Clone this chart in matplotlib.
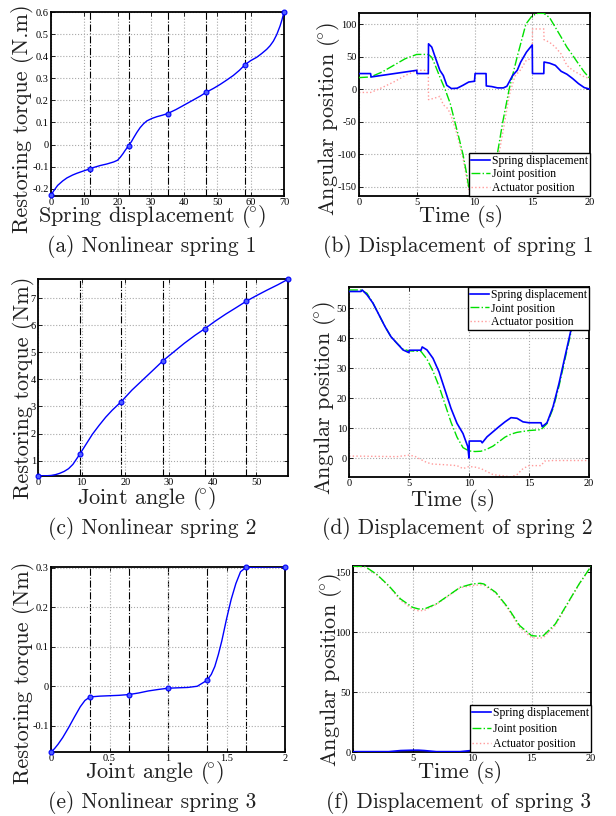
import numpy as np
import matplotlib
matplotlib.use("Agg")
import matplotlib.pyplot as plt

plt.rcParams['mathtext.fontset'] = 'cm'
plt.rcParams['font.family'] = ['cmr10', 'DejaVu Serif']
plt.rcParams['axes.unicode_minus'] = False

# ---- (a) nonlinear spring 1 ----
a_knot_x = [0, 11.667, 23.333, 35, 46.667, 58.333, 70]
a_knot_y = [-0.23, -0.11, -0.005, 0.14, 0.237, 0.362, 0.6]
a_curve_x = [0, 0.8, 2, 3.5, 4.8, 6.5, 7.8, 9.5, 11.667, 13, 14.8, 16.8, 18.8, 20, 20.8, 21.6, 22.3, 23.333,
             24.2, 24.8, 25.8, 26.8, 27.8, 28.8, 30.3, 31.8, 33.5, 35, 37.5, 39.8, 42.3, 44.8, 46.667,
             48.8, 50.8, 52.8, 54.8, 56.6, 58.333, 60, 61.8, 63.3, 64.8, 65.8, 66.8, 67.8, 68.8, 69.4, 70]
a_curve_y = [-0.23, -0.21, -0.185, -0.165, -0.151, -0.138, -0.13, -0.121, -0.11, -0.103, -0.095, -0.088, -0.079,
             -0.071, -0.058, -0.042, -0.026, -0.005, 0.014, 0.03, 0.055, 0.077, 0.094, 0.107, 0.118, 0.126,
             0.133, 0.14, 0.158, 0.177, 0.198, 0.219, 0.237, 0.254, 0.272, 0.292, 0.313, 0.336, 0.362,
             0.38, 0.395, 0.412, 0.431, 0.447, 0.468, 0.497, 0.536, 0.565, 0.6]

# ---- (c) nonlinear spring 2 ----
c_knot_x = [0, 9.55, 19.1, 28.65, 38.2, 47.75, 57.3]
c_knot_y = [0.435, 1.23, 3.18, 4.69, 5.87, 6.89, 7.70]
c_curve_x = [0, 2, 3, 4, 5, 6, 7, 8, 9.55, 11, 12.5, 14, 15.5, 17, 19.1, 21.5, 24, 26.5, 28.65,
             31, 33.5, 36, 38.2, 40.5, 43, 45.5, 47.75, 50, 52.5, 55, 57.3]
c_curve_y = [0.435, 0.44, 0.45, 0.48, 0.53, 0.6, 0.7, 0.86, 1.23, 1.6, 1.98, 2.3, 2.6, 2.86, 3.18,
             3.6, 3.98, 4.36, 4.69, 5.0, 5.33, 5.63, 5.87, 6.14, 6.41, 6.66, 6.89, 7.09, 7.3, 7.5, 7.70]

# ---- (e) nonlinear spring 3 ----
e_knot_x = [0, 0.3333, 0.6667, 1.0, 1.3333, 1.6667, 2.0]
e_knot_y = [-0.1665, -0.027, -0.021, -0.005, 0.015, 0.301, 0.302]
e_curve_x = [0, 0.03, 0.06, 0.1, 0.15, 0.2, 0.25, 0.29, 0.3333, 0.42, 0.5, 0.58, 0.6667, 0.75, 0.83, 0.92,
             1.0, 1.08, 1.17, 1.25, 1.3333, 1.37, 1.4, 1.43, 1.46, 1.5, 1.54, 1.58, 1.62, 1.6667, 1.75, 1.85, 2.0]
e_curve_y = [-0.1665, -0.158, -0.147, -0.13, -0.105, -0.078, -0.052, -0.036, -0.027, -0.025, -0.024, -0.023,
             -0.021, -0.017, -0.012, -0.008, -0.005, -0.004, -0.003, 0.0, 0.015, 0.03, 0.05, 0.08, 0.115,
             0.17, 0.22, 0.26, 0.29, 0.301, 0.3015, 0.302, 0.302]

# ---- (b) displacement of spring 1 ----
b_spring_t = [0, 1, 1.05, 5, 5.02, 6, 6.02, 6.3, 6.6, 7, 7.3, 7.6, 8, 8.5, 9, 9.5, 10, 10.05, 11, 11.02,
              11.5, 12, 12.5, 12.8, 13, 13.3, 13.7, 14, 14.5, 15, 15.02, 16, 16.02, 16.5, 17, 17.5, 18,
              18.5, 19, 19.5, 20]
b_spring = [24, 24, 18.8, 29, 24, 24, 69.7, 64.6, 49, 29, 21, 6, 1, 1.5, 6, 11, 12.2, 24, 24, 5,
            4, 2, 2, 4.5, 11, 21, 29, 41.7, 57, 68, 24, 24, 41.7, 40, 36.6, 27.5, 23,
            16.3, 8.6, 2.5, 0]
b_joint_t = [0, 1, 2, 3, 4, 5, 6, 6.3, 6.6, 7, 7.45, 7.9, 8.3, 8.7, 9.0, 9.3, 9.5, 9.8, 10.3, 10.8, 11.3,
             11.7, 12.0, 12.45, 13.0, 13.7, 14.45, 15.0, 15.5, 16, 16.5, 17, 17.5, 18, 18.5, 19, 19.5, 20]
b_joint = [17.8, 18.8, 26.4, 36.6, 46.8, 53.4, 53.4, 49, 36.6, 18.8, 0, -22, -50, -78, -100, -128, -150, -162,
           -166, -160, -138, -115, -97, -50, 0, 50, 100, 113, 116.5, 116.5, 110, 95, 80, 64.6, 52, 39, 26.4, 16.3]
b_act_t = [0, 1, 1.5, 2, 3, 4, 5, 6, 6.02, 6.5, 7, 7.3, 7.7, 8, 8.5, 9, 9.5, 9.9, 10.5, 11.3, 11.7, 12.0,
           12.5, 13, 13.5, 14, 14.5, 15, 15.02, 16, 16.02, 16.5, 17, 17.5, 18, 18.5, 19, 19.5, 20]
b_act = [-5, -5, -1.5, 2.5, 11, 21, 29, 29, -16, -14, -11, -24, -30, -42, -70, -105, -155, -175,
         -175, -170, -140, -110, -62, -10, 20, 30, 45, 47, 92.5, 92.5, 76, 72, 64.6, 54, 36.6, 29, 24, 19, 16.3]

# ---- (d) displacement of spring 2 ----
d_spring_t = [0, 1, 1.1, 1.5, 2, 2.5, 3, 3.5, 4, 4.5, 5, 5.02, 6, 6.1, 6.5, 7, 7.5, 8, 8.5, 9, 9.5, 9.9,
              10, 10.02, 11, 11.1, 11.5, 12, 12.5, 13, 13.5, 14, 14.5, 15, 16, 16.1, 16.5, 17, 17.5, 18,
              18.5, 19, 19.5, 20]
d_spring = [55.6, 55.6, 56.1, 54.5, 51.7, 47.8, 43.9, 40.5, 38.3, 36.1, 35.2, 36, 36, 37.1, 36.1, 33.3,
            28.8, 22.7, 16.6, 11.6, 8.2, 3.8, 0, 5.7, 5.7, 5.1, 7.1, 8.8, 10.5, 12.1, 13.5, 13.3, 12.1,
            11.8, 11.8, 10.5, 11.8, 17.1, 24.9, 33.9, 42.8, 49.4, 54.5, 57.2]
d_joint_t = [0, 1, 1.5, 2, 2.5, 3, 3.5, 4, 4.5, 5, 6, 6.5, 7, 7.5, 8, 8.5, 9, 9.5, 10, 10.5, 11, 11.5, 12,
             12.5, 13, 13.5, 14, 15, 16, 16.5, 17, 17.5, 18, 18.5, 19, 19.5, 20]
d_joint = [56.1, 56.1, 55, 51.7, 47.8, 43.9, 40.5, 38.3, 36.4, 35.8, 35.6, 33, 29, 24, 18, 12, 7, 3.5,
           2.4, 2.2, 2.3, 3, 4, 5.5, 7, 8, 8.6, 9.2, 9.5, 11.5, 16.5, 24, 33, 42, 49, 54, 57]
d_act_t = [0, 4, 5, 5.5, 6, 6.5, 7, 8, 9, 9.5, 10, 10.5, 11, 11.5, 12, 13, 13.5, 14, 14.5, 15, 16, 16.3,
           17, 20]
d_act = [0.7, 0.5, 1, 0.6, -0.5, -1.5, -2, -2.2, -2.5, -3.5, -2.8, -3, -3.5, -4.5, -5.5, -6, -6.3, -5.5,
         -3.5, -2.5, -2.5, -1, -0.8, -0.8]

# ---- (f) displacement of spring 3 ----
f_t = [0, 1, 2, 3, 4, 5, 5.5, 6, 7, 8, 9, 10, 10.7, 11, 12, 13, 14, 15, 15.5, 16, 17, 18, 19, 20]
f_joint = [154.7, 154.7, 148, 138.6, 127.5, 120.6, 119.2, 119.2, 123.4, 130.3, 137.2, 140, 140.6, 140,
           133, 120.6, 105.4, 97, 96.5, 97, 106.7, 123.4, 140, 154.7]
f_spring = [0.3, 0.3, 0.3, 0.3, 1.2, 1.5, 1.5, 1.2, 0.3, 0.3, 0.3, 1.3, 1.3, 1.0, 0.5, 1.0, 1.6, 1.7, 1.7,
            1.7, 1.3, 0.6, 0.3, 0.3]
f_act = [154.4, 154.4, 147.7, 138.3, 126.3, 119.1, 117.7, 118.0, 123.1, 130.0, 136.9, 138.7, 139.3, 139,
         132.5, 119.6, 103.8, 95.3, 94.8, 95.3, 105.4, 122.8, 139.7, 154.4]

captions = ['(a) Nonlinear spring 1', '(b) Displacement of spring 1',
            '(c) Nonlinear spring 2', '(d) Displacement of spring 2',
            '(e) Nonlinear spring 3', '(f) Displacement of spring 3']
legend_labels = ['Spring displacement', 'Joint position', 'Actuator position']
DEG = r'($\!^{\circ}$)'

W, H = 616, 816
fig = plt.figure(figsize=(W / 100, H / 100), dpi=100)


def ax_px(l, t, r, b):
    return fig.add_axes([l / W, 1 - b / H, (r - l) / W, (b - t) / H])


tick_font = dict(family='Liberation Serif', size=7.5)
BLUE = '#0000ff'
GREEN = '#00e000'
PINK = '#ff9a9a'
LABEL_SIZE = 16
CAP_SIZE = 15.5


def style(ax, xt, xtl, yt, ytl, xlim, ylim):
    ax.set_xlim(*xlim)
    ax.set_ylim(*ylim)
    ax.set_xticks(xt)
    ax.set_xticklabels(xtl, fontdict=tick_font)
    ax.set_yticks(yt)
    ax.set_yticklabels(ytl, fontdict=tick_font)
    ax.grid(True, color='#a8a8a8', linestyle=':', linewidth=0.8)
    ax.tick_params(direction='in', length=3, width=0.6, top=True, right=True, pad=1.5)
    for s in ax.spines.values():
        s.set_linewidth(1.3)


def label_px(x, y, s, rot=0, size=LABEL_SIZE):
    fig.text(x / W, 1 - y / H, s, ha='center', va='center', rotation=rot, fontsize=size, color='#202020')


def spring_panel(ax, kx, ky, cx, cy):
    for v in kx[1:-1]:
        ax.axvline(v, color='black', linestyle='-.', linewidth=0.8, zorder=1)
    ax.plot(cx, cy, color=BLUE, linewidth=1.0, zorder=3)
    ax.plot(kx, ky, 'o', color=BLUE, markersize=3.5, markerfacecolor='#5060ff', markeredgewidth=0.8,
            zorder=4, clip_on=False)


def disp_panel(ax, st, sv, jt, jv, at, av, leg_loc, anchor, spacing=0.15):
    l1, = ax.plot(st, sv, color=BLUE, linewidth=1.2, zorder=4)
    l2, = ax.plot(jt, jv, color=GREEN, linestyle='-.', linewidth=1.0, zorder=3)
    l3, = ax.plot(at, av, color=PINK, linestyle=':', linewidth=1.0, zorder=2)
    leg = ax.legend([l1, l2, l3], legend_labels, loc=leg_loc, bbox_to_anchor=anchor,
                    prop=dict(family='Liberation Serif', size=8.5), handlelength=1.6, handletextpad=0.2,
                    borderpad=0.15, labelspacing=spacing, borderaxespad=0, fancybox=False, framealpha=1)
    leg.get_frame().set_edgecolor('black')
    leg.get_frame().set_linewidth(1.0)


# (a)
ax = ax_px(51, 12, 284, 196)
spring_panel(ax, a_knot_x, a_knot_y, a_curve_x, a_curve_y)
style(ax, [0, 10, 20, 30, 40, 50, 60, 70], ['0', '10', '20', '30', '40', '50', '60', '70'],
      [-0.2, -0.1, 0, 0.1, 0.2, 0.3, 0.4, 0.5, 0.6],
      ['-0.2', '-0.1', '0', '0.1', '0.2', '0.3', '0.4', '0.5', '0.6'], (0, 70), (-0.233, 0.6))
label_px(23, 119, 'Restoring torque (N.m)', rot=90)
label_px(152, 216, 'Spring displacement ' + DEG)
label_px(152, 247, captions[0], size=CAP_SIZE)

# (b)
ax = ax_px(359, 13, 590, 196)
disp_panel(ax, b_spring_t, b_spring, b_joint_t, b_joint, b_act_t, b_act, 'lower right', (1, 0))
style(ax, [0, 5, 10, 15, 20], ['0', '5', '10', '15', '20'],
      [-150, -100, -50, 0, 50, 100], ['-150', '-100', '-50', '0', '50', '100'], (0, 20), (-164, 117))
label_px(328, 119, 'Angular position ' + DEG, rot=90)
label_px(461, 217, 'Time (s)')
label_px(458, 247, captions[1], size=CAP_SIZE)

# (c)
ax = ax_px(38, 279, 288, 476)
spring_panel(ax, c_knot_x, c_knot_y, c_curve_x, c_curve_y)
style(ax, [0, 10, 20, 30, 40, 50], ['0', '10', '20', '30', '40', '50'],
      [1, 2, 3, 4, 5, 6, 7], ['1', '2', '3', '4', '5', '6', '7'], (0, 57.3), (0.43, 7.71))
label_px(24, 388, 'Restoring torque (Nm)', rot=90)
label_px(147, 499, 'Joint angle ' + DEG)
label_px(152, 528, captions[2], size=CAP_SIZE)

# (d)
ax = ax_px(349, 287, 589, 477)
disp_panel(ax, d_spring_t, d_spring, d_joint_t, d_joint, d_act_t, d_act, 'upper right', (1, 1))
style(ax, [0, 5, 10, 15, 20], ['0', '5', '10', '15', '20'],
      [0, 10, 20, 30, 40, 50], ['0', '10', '20', '30', '40', '50'], (0, 20), (-6.3, 57.1))
label_px(325, 398, 'Angular position ' + DEG, rot=90)
label_px(453, 500, 'Time (s)')
label_px(457, 528, captions[3], size=CAP_SIZE)

# (e)
ax = ax_px(51, 567, 285, 752)
spring_panel(ax, e_knot_x, e_knot_y, e_curve_x, e_curve_y)
style(ax, [0, 0.5, 1, 1.5, 2], ['0', '0.5', '1', '1.5', '2'],
      [-0.1, 0, 0.1, 0.2, 0.3], ['-0.1', '0', '0.1', '0.2', '0.3'], (0, 2), (-0.1665, 0.302))
label_px(24, 673, 'Restoring torque (Nm)', rot=90)
label_px(155, 773, 'Joint angle ' + DEG)
label_px(152, 803, captions[4], size=CAP_SIZE)

# (f)
ax = ax_px(353, 566, 591, 752)
disp_panel(ax, f_t, f_spring, f_t, f_joint, f_t, f_act, 'lower right', (1, 0), spacing=0.3)
style(ax, [0, 5, 10, 15, 20], ['0', '5', '10', '15', '20'],
      [0, 50, 100, 150], ['0', '50', '100', '150'], (0, 20), (0, 155))
label_px(330, 670, 'Angular position ' + DEG, rot=90)
label_px(460, 773, 'Time (s)')
label_px(458, 803, captions[5], size=CAP_SIZE)

fig.savefig('out.png', dpi=100)
